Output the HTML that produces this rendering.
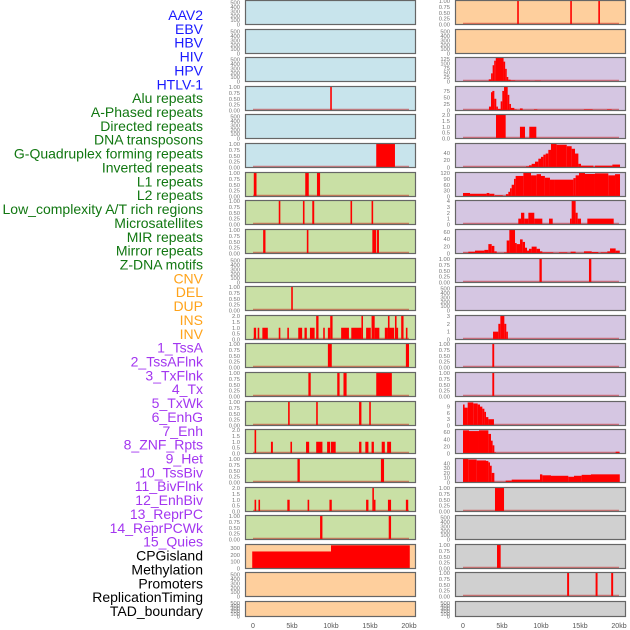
<!DOCTYPE html>
<html><head><meta charset="utf-8"><style>
html,body{margin:0;padding:0;background:#fff;width:630px;height:630px;overflow:hidden}
svg{display:block;font-family:"Liberation Sans",sans-serif}
</style></head><body>
<svg id="chart" width="630" height="630" viewBox="0 0 630 630"></svg>
<script>
// ---- labels ----
const trackLabels=["AAV2","EBV","HBV","HIV","HPV","HTLV-1","Alu repeats","A-Phased repeats","Directed repeats","DNA transposons","G-Quadruplex forming repeats","Inverted repeats","L1 repeats","L2 repeats","Low_complexity A/T rich regions","Microsatellites","MIR repeats","Mirror repeats","Z-DNA motifs","CNV","DEL","DUP","INS","INV","1_TssA","2_TssAFlnk","3_TxFlnk","4_Tx","5_TxWk","6_EnhG","7_Enh","8_ZNF_Rpts","9_Het","10_TssBiv","11_BivFlnk","12_EnhBiv","13_ReprPC","14_ReprPCWk","15_Quies","CPGisland","Methylation","Promoters","ReplicationTiming","TAD_boundary"];
const labelColors=["#1a1aff","#1a1aff","#1a1aff","#1a1aff","#1a1aff","#1a1aff","#117711","#117711","#117711","#117711","#117711","#117711","#117711","#117711","#117711","#117711","#117711","#117711","#117711","#ffa31a","#ffa31a","#ffa31a","#ffa31a","#ffa31a","#a336f0","#a336f0","#a336f0","#a336f0","#a336f0","#a336f0","#a336f0","#a336f0","#a336f0","#a336f0","#a336f0","#a336f0","#a336f0","#a336f0","#a336f0","#000","#000","#000","#000","#000"];
const xTickValues=[0,5,10,15,20];
const xTickLabels=["0","5kb","10kb","15kb","20kb"];
// ---- data: segments [startKb, endKb, value] ----
const aav2=[],ebv=[],hbv=[],hpv=[],dnaTransposons=[],dup=[],del=[],inv=[],het=[],methylation=[],tad=[];
const hiv=[[9.9,10.1,1]];
const htlv1=[[15.8,18.2,1]];
const alu=[[0.1,0.45,1],[6.7,7.15,1],[8.2,8.6,1]];
const aPhased=[[3.3,3.5,1],[6.4,6.6,1],[7.6,7.85,1],[12.5,12.7,1],[15.2,15.4,1]];
const directed=[[1.3,1.6,1],[6.9,7.1,1],[15.3,15.8,1],[15.9,16.15,1]];
const gQuad=[[4.9,5.1,1]];
const inverted=[[0.1,0.4,1],[0.6,0.8,1],[1.2,1.9,1],[3.3,3.5,1],[4.4,4.6,1],[5.8,6.3,1],[6.6,6.9,1],[7.3,7.9,1],[8.1,8.4,2],[9.0,9.2,1],[9.6,9.9,1],[9.9,10.2,2],[11.3,12.3,1],[12.6,13.9,1],[13.9,14.1,2],[14.5,15.1,1],[15.2,15.6,2],[15.6,16.2,1],[16.9,17.3,1],[17.3,17.5,2],[17.5,18.1,1],[18.2,18.4,2],[18.4,18.6,1],[19.0,19.3,2],[19.6,19.8,1]];
const l1=[[9.6,10.1,1],[19.6,20.0,1]];
const l2=[[7.1,7.4,1],[10.8,11.1,1],[11.6,12.0,1],[15.8,17.8,1]];
const lowComplexity=[[4.5,4.7,1],[8.1,8.3,1],[13.6,13.9,1],[14.9,15.1,1]];
const microsat=[[0.2,0.4,2],[2.3,2.55,1],[4.8,5.0,1],[6.8,7.2,1],[8.1,8.9,1],[9.5,9.9,1],[10.0,10.6,1],[13.6,13.9,1],[14.4,14.8,1],[15.2,15.5,1],[16.5,16.9,1],[17.2,17.7,1]];
const mir=[[5.7,6.0,1],[16.4,16.8,1]];
const mirror=[[0.2,0.4,1],[0.7,0.9,1],[4.4,4.7,1],[7.0,7.2,1],[9.8,10.1,1],[14.5,14.8,1],[15.3,15.5,2],[15.5,15.6,1],[17.3,17.7,1],[19.6,19.9,1]];
const zdna=[[8.6,8.9,1],[17.4,17.7,1]];
const cnv=[[-0.1,10.0,250],[10.0,20.1,340]];
const ins=[[6.95,7.15,1],[13.75,13.95,1],[17.35,17.55,1]];
const tssA=[[3.3,3.6,12],[3.6,3.8,45],[3.8,4.0,90],[4.0,4.2,115],[4.2,5.2,130],[5.2,5.4,110],[5.4,5.6,70],[5.6,5.8,25],[5.8,6.1,10],[6.1,6.7,6],[6.7,8.6,4],[9.2,10.0,4]];
const tssAFlnk=[[3.33,3.59,15],[3.59,3.76,70],[3.76,4.02,75],[4.02,4.27,45],[4.27,4.44,15],[4.44,4.83,6],[4.83,5.04,35],[5.04,5.26,75],[5.26,5.73,90],[5.73,5.94,60],[5.94,6.15,25],[6.15,6.58,10],[6.58,6.88,4],[7.3,7.65,8],[9.1,9.53,4],[15.5,16.62,4],[18.46,19.06,4]];
const txFlnk=[[4.23,5.47,2],[7.3,7.95,1],[8.5,9.4,1]];
const tx=[[8.08,8.46,3],[8.46,8.8,6],[8.8,9.23,10],[9.23,9.66,16],[9.66,10.0,24],[10.0,10.3,29],[10.3,10.6,35],[10.6,10.94,38],[10.94,11.28,48],[11.28,12.0,64],[12.0,13.3,62],[13.3,13.93,58],[13.93,14.36,51],[14.36,14.79,38],[14.79,15.13,10],[15.13,16.71,5],[16.92,19.15,5],[19.15,20.13,8]];
const txWk=[[0,0.9,18],[0.9,3.03,14],[3.03,3.38,18],[3.38,4.02,14],[4.1,5.1,6],[5.5,5.81,12],[5.81,6.03,24],[6.03,6.24,42],[6.24,6.54,60],[6.54,6.75,90],[6.75,7.74,105],[7.74,8.72,120],[8.72,9.44,108],[9.44,10.0,114],[10.0,10.5,105],[10.5,11.15,96],[11.15,11.79,86],[11.79,14.15,86],[14.15,14.44,94],[14.44,14.87,108],[14.87,15.64,120],[15.64,16.92,115],[16.92,18.63,118],[18.63,19.49,108],[19.49,20.13,114]];
const enhG=[[7.09,7.44,1],[7.44,7.86,2],[7.86,8.38,1],[8.38,9.14,2],[9.14,10.17,1],[11.03,11.5,1],[13.72,13.93,1],[13.93,14.44,4],[14.44,14.7,2],[14.7,15.13,1],[15.94,19.32,1]];
const enh=[[0,0.68,2],[0.68,1.54,5],[1.54,2.74,8],[2.74,3.25,10],[3.25,3.68,26],[3.68,4.02,21],[4.02,4.32,6],[5.26,5.6,3],[5.6,5.94,36],[5.94,6.67,65],[6.67,6.88,29],[6.88,7.31,26],[7.31,7.65,39],[7.65,7.95,32],[7.95,8.21,16],[8.21,8.46,8],[8.46,8.8,13],[8.8,9.44,19],[9.44,9.87,13],[9.87,10.17,6],[10.17,11.58,3],[12.3,13.37,3],[13.8,14.44,5],[15.51,16.5,6],[16.5,17.35,4],[17.65,18.5,3],[18.5,18.85,6],[18.85,19.57,14],[19.57,20.1,8]];
const znf=[[9.8,10.1,1],[16.15,16.45,1]];
const tssBiv=[[3.85,4.53,1],[4.53,4.79,2],[4.79,5.3,3],[5.3,5.55,2],[5.55,5.73,1]];
const bivFlnk=[[3.76,4.0,1]];
const enhBiv=[[3.76,4.0,1]];
const reprPC=[[0,0.13,10],[0.13,0.6,8.5],[0.6,1.32,11],[1.32,1.88,10.5],[1.88,2.18,10],[2.18,2.48,9],[2.48,2.74,8],[2.74,2.95,6.5],[2.95,3.25,4],[3.25,3.97,3]];
const reprPCWk=[[0,0.77,65],[0.77,2.05,63],[2.05,3.25,65],[3.25,3.59,55],[3.59,3.8,36],[3.8,4.02,23],[4.02,4.1,3],[19.57,20.08,5]];
const quies=[[0,0.68,49],[0.68,1.75,48],[1.75,2.95,46],[2.95,3.25,45],[3.25,3.46,42],[3.46,3.68,35],[3.68,4.02,20],[5.47,6.24,4],[6.24,9.87,6],[9.87,10.17,17],[10.17,11.28,15],[11.28,13.5,14],[13.5,14.23,12],[14.23,15.21,14],[15.21,16.41,16],[16.41,20.1,17]];
const cpg=[[4.1,5.26,1]];
const promoters=[[4.36,4.83,1]];
const repTiming=[[13.35,13.6,1],[17.0,17.25,1],[19.0,19.25,1]];
// ---- y axis specs: [ymax, tick values, decimals] ----
const E=[540,[0,100,200,300,400,500],0], P1=[1,[0,0.25,0.5,0.75,1],2], P2=[2,[0,0.5,1,1.5,2],1];
const leftTracks=[[aav2,E],[ebv,E],[hbv,E],[hiv,P1],[hpv,E],[htlv1,P1],[alu,P1],[aPhased,P1],[directed,P1],[dnaTransposons,E],[gQuad,P1],[inverted,P2],[l1,P1],[l2,P1],[lowComplexity,P1],[microsat,P2],[mir,P1],[mirror,P2],[zdna,P1],[cnv,[345,[0,100,200,300],0]],[del,E],[dup,E]];
const rightTracks=[[ins,P1],[inv,E],[tssA,[130,[0,25,50,75,100,125],0]],[tssAFlnk,[90,[0,25,50,75],0]],[txFlnk,P2],[tx,[64,[0,20,40],0]],[txWk,[120,[0,30,60,90,120],0]],[enhG,[4,[0,1,2,3,4],0]],[enh,[65,[0,20,40,60],0]],[znf,P1],[het,E],[tssBiv,[3,[0,1,2,3],0]],[bivFlnk,P1],[enhBiv,P1],[reprPC,[11.2,[0,3,6,9],0]],[reprPCWk,[66,[0,20,40,60],0]],[quies,[49,[0,10,20,30,40],0]],[cpg,P1],[methylation,E],[promoters,P1],[repTiming,P1],[tad,E]];
const leftBg=["#c8e4ec","#c8e4ec","#c8e4ec","#c8e4ec","#c8e4ec","#c8e4ec","#c9e0a5","#c9e0a5","#c9e0a5","#c9e0a5","#c9e0a5","#c9e0a5","#c9e0a5","#c9e0a5","#c9e0a5","#c9e0a5","#c9e0a5","#c9e0a5","#c9e0a5","#fecf9d","#fecf9d","#fecf9d"];
const rightBg=["#fecf9d","#fecf9d","#d5c6e2","#d5c6e2","#d5c6e2","#d5c6e2","#d5c6e2","#d5c6e2","#d5c6e2","#d5c6e2","#d5c6e2","#d5c6e2","#d5c6e2","#d5c6e2","#d5c6e2","#d5c6e2","#d5c6e2","#d0d0d0","#d0d0d0","#d0d0d0","#d0d0d0","#d0d0d0"];

const NS="http://www.w3.org/2000/svg";
const svg=document.getElementById('chart');
function mk(tag,attrs,parent){const e=document.createElementNS(NS,tag);for(const k in attrs)e.setAttribute(k,attrs[k]);(parent||svg).appendChild(e);return e;}

// labels
trackLabels.forEach((t,i)=>{
  const el=mk('text',{x:203,y:20+i*13.86,'text-anchor':'end','font-size':14,fill:labelColors[i]});
  el.textContent=t;
  
  
});

function rowTop(i){return Math.round(i*28.62);}
function drawColumn(tracks,bgs,px,col){
  const x0=px+8,x1=px+164;
  const xs=kb=>x0+(x1-x0)*kb/20;
  tracks.forEach((tr,i)=>{
    const data=tr[0],ymax=tr[1][0],ticks=tr[1][1],dec=tr[1][2];
    const top=rowTop(i),h=(i===21?16:25),bot=top+h-0.5;
    const ys=v=>bot-(h-1.5)*v/ymax;
    const g=mk('g',{});
    
    
    mk('rect',{x:px,y:top,width:171,height:h,fill:bgs[i]},g);
    if(data.length){
      mk('line',{x1:xs(0),x2:xs(20),y1:bot-1,y2:bot-1,stroke:'rgba(200,0,0,0.45)','stroke-width':1.5},g);
    }
    data.forEach(d=>{
      const r=mk('rect',{x:xs(d[0]),y:ys(d[2]),width:Math.max(1.6,xs(d[1])-xs(d[0])),height:bot-ys(d[2]),fill:'#ff0000'},g);
      
      
    });
    mk('rect',{x:px+0.5,y:top+0.5,width:170,height:h-1,fill:'none',stroke:'#666','stroke-width':1.2},g);
    ticks.forEach(v=>{
      const t=mk('text',{x:px-5,y:ys(v)+2,'text-anchor':'end','font-size':5.8,fill:'#777'},g);
      t.textContent=v.toFixed(dec);
      
      
    });
  });
  xTickValues.forEach((v,k)=>{
    const t=mk('text',{x:xs(v),y:628,'text-anchor':'middle','font-size':7,fill:'#555'});
    t.textContent=xTickLabels[k];
    
    
  });
}
drawColumn(leftTracks,leftBg,245,'left');
drawColumn(rightTracks,rightBg,455,'right');
</script>
</body></html>
